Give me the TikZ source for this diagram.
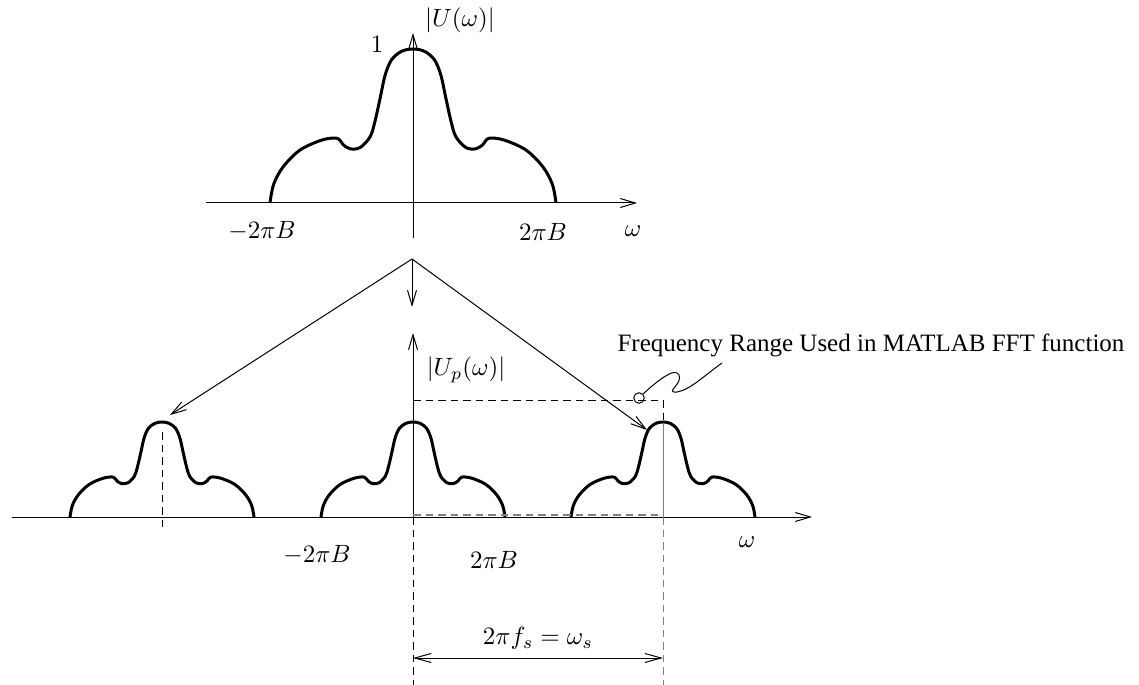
\documentclass[tikz,border=0pt]{standalone}
\usepackage{fontspec}
\newfontfamily\timesfont{Liberation Serif}
\usetikzlibrary{arrows.meta}
\begin{document}
\begin{tikzpicture}[x=0.4pt,y=-0.4pt,
  axis/.style={line width=0.4pt},
  arr/.style={-{Straight Barb[length=6pt,width=3.6pt]}},
  arrboth/.style={{Straight Barb[length=6.5pt,width=3.6pt]}-{Straight Barb[length=6.5pt,width=3.6pt]}},
  dsh/.style={dash pattern=on 3pt off 2pt, line width=0.4pt},
  lobeline/.style={line width=1.2pt, line join=round},
  lbl/.style={inner sep=1pt},
  lobe/.pic={\draw[lobeline] plot[smooth,tension=0.55] coordinates {
    (-1,0) (-0.975,0.12) (-0.909,0.234) (-0.79,0.344) (-0.636,0.409) (-0.53,0.42)
    (-0.49,0.38) (-0.44,0.352) (-0.37,0.36) (-0.30,0.43) (-0.266,0.53) (-0.23,0.68)
    (-0.195,0.83) (-0.15,0.93) (-0.08,0.985) (0,1) (0.08,0.985) (0.15,0.93) (0.195,0.83)
    (0.23,0.68) (0.266,0.53)
    (0.30,0.43) (0.37,0.36) (0.44,0.352) (0.49,0.38) (0.53,0.42) (0.636,0.409)
    (0.79,0.344) (0.909,0.234) (0.975,0.12) (1,0)};}]
\useasboundingbox (0,0) rectangle (1139,685);

% ---------- top spectrum ----------
\coordinate (t0) at (413,203);
\draw[axis,arr] (206,203) -- (637,203);
\draw[axis,arr] (413,238) -- (413,33);
\pic[xscale=143,yscale=-154] at (t0) {lobe};
\node[lbl] (uw) at (460,20) {$|U(\omega)|$};
\node[lbl] (one) at (377,44) {$1$};
\node[lbl] (tmB) at (262,231) {$-2\pi B$};
\node[lbl] (tpB) at (543,232) {$2\pi B$};
\node[lbl] (tw) at (633,231) {$\omega$};

% ---------- arrows from top to bottom ----------
\coordinate (apex) at (412,259);
\coordinate (ldn) at (170,415);
\coordinate (mdn) at (412,307);
\coordinate (rdn) at (647,430);
\draw[axis,arr] (apex) -- (ldn);
\draw[axis,arr] (apex) -- (mdn);
\draw[axis,arr] (apex) -- (rdn);

% ---------- bottom spectrum ----------
\draw[axis,arr] (12,517) -- (812,517);
\draw[axis,arr] (413,517) -- (413,333);
\draw[dsh] (413,517) -- (413,685);
\pic[xscale=92,yscale=-95] at (162,517) {lobe};
\pic[xscale=92,yscale=-95] at (413,517) {lobe};
\pic[xscale=92,yscale=-95] at (663,517) {lobe};
\draw[dsh] (162,432) -- (162,528);
\draw[dsh] (413,400) -- (663,400) -- (663,423);
\draw[axis,gray] (663,423) -- (663,517);
\draw[dsh,gray] (663,517) -- (663,685);
\draw[dsh,gray,line width=0.8pt] (413,514.5) -- (663,514.5);

\node[lbl] (upw) at (466,370) {$|U_p(\omega)|$};
\node[lbl] (bmB) at (317,555) {$-2\pi B$};
\node[lbl] (bpB) at (494,560) {$2\pi B$};
\node[lbl] (bw) at (747,542) {$\omega$};

% ---------- sampling frequency dimension ----------
\coordinate (dl) at (413,658);
\coordinate (dr) at (663,658);
\draw[axis,arrboth] (dl) -- (dr);
\node[lbl] (fs) at (538,638) {$2\pi f_s=\omega_s$};

% ---------- annotation ----------
\node[draw,circle,minimum size=4.2pt,inner sep=0pt,line width=0.4pt] (circ) at (639,398) {};
\node[lbl] (note) at (871,345) {\timesfont Frequency Range Used in MATLAB FFT function};
\coordinate (snakeend) at (722,363);
\draw[axis] (circ.north east) .. controls (655,383) and (675,366) .. (679,375)
  .. controls (683,384) and (664,393) .. (677,392)
  .. controls (690,390) and (705,375) .. (snakeend);
\end{tikzpicture}
\end{document}
